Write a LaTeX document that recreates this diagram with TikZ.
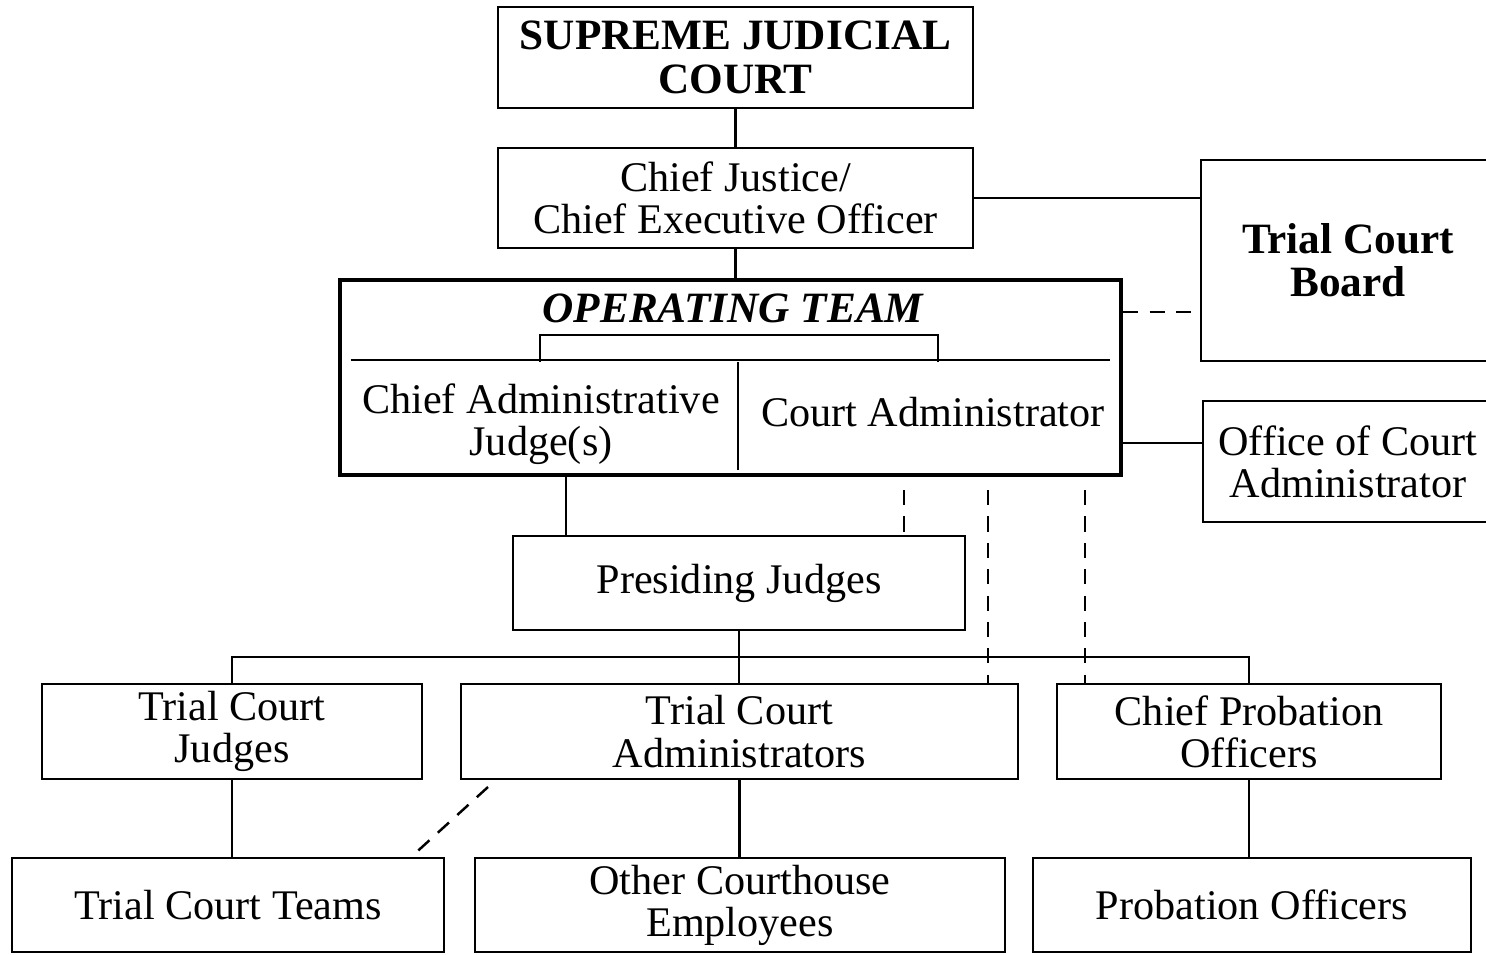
\documentclass[tikz,border=0pt]{standalone}
\usepackage{fontspec}
\setmainfont{Liberation Serif}
\usepackage{tikz}
\usetikzlibrary{calc}

\begin{document}
\begin{tikzpicture}[x=0.01cm,y=-0.01cm,line width=0.7pt,
                    font=\fontsize{12}{12}\selectfont]
  \tikzstyle{office}=[draw,rectangle,align=center,inner sep=0pt]
  \tikzstyle{rolename}=[align=center,inner sep=0pt]
  \tikzstyle{heavy}=[font=\fontsize{12.3}{12.3}\selectfont\bfseries]
  \tikzstyle{link}=[dash pattern=on 4.3pt off 3.2pt]

  \useasboundingbox (0,0) rectangle (1486,954);

  \node[office,heavy,minimum width=4.75cm,minimum height=1.01cm] (sjc) at (735.5,57.5) {SUPREME JUDICIAL\\COURT};
  \node[office,minimum width=4.75cm,minimum height=1.00cm] (cj) at (735.5,198) {Chief Justice/\\Chief Executive Officer};
  \node[office,line width=1.2pt,minimum width=7.81cm,minimum height=1.95cm] (ot) at (730.5,377.5) {};
  \node[rolename,font=\fontsize{12.3}{12.3}\selectfont\bfseries\itshape] (otl) at (733,308) {OPERATING TEAM};
  \node[rolename] (caj) at (541,424) {Chief Administrative\\Judge(s)};
  \node[rolename] (ca) at (933,412) {Court Administrator};
  \node[office,heavy,minimum width=2.94cm,minimum height=2.01cm] (tcb) at (1348,260.5) {Trial Court\\Board};
  \node[office,minimum width=2.90cm,minimum height=1.21cm] (oca) at (1348,461.5) {Office of Court\\Administrator};
  \node[office,minimum width=4.52cm,minimum height=0.94cm] (pj) at (739,583) {Presiding Judges};
  \node[office,minimum width=3.80cm,minimum height=0.95cm] (tcj) at (232,731.5) {Trial Court\\Judges};
  \node[office,minimum width=5.57cm,minimum height=0.95cm] (tca) at (739.5,731.5) {Trial Court\\Administrators};
  \node[office,minimum width=3.84cm,minimum height=0.95cm] (cpo) at (1249,731.5) {Chief Probation\\Officers};
  \node[office,minimum width=4.32cm,minimum height=0.94cm] (tct) at (228,905) {Trial Court Teams};
  \node[office,minimum width=5.30cm,minimum height=0.94cm] (oce) at (740,905) {Other Courthouse\\Employees};
  \node[office,minimum width=4.38cm,minimum height=0.94cm] (po) at (1252,905) {Probation Officers};

  % inside the operating team
  \draw ($(ot.north west)+(13,82)$) -- ($(ot.north east)+(-13,82)$);
  \draw (540,362) |- (938,335) -- (938,362);
  \draw (738,362) -- (738,470);

  \coordinate (otb) at ($(ot.north east)+(0,34)$);
  \coordinate (otc) at ($(ot.south east)+(0,-34)$);
  \coordinate (tap) at (566,0);
  \coordinate (bus) at (0,657);
  \coordinate (d1) at (904,490);
  \coordinate (d2) at (988,490);
  \coordinate (d3) at (1085,490);
  \coordinate (d4) at (488,787);
  \coordinate (d5) at ($(tct.north east)+(-34,0)$);

  \draw (sjc) -- (cj);
  \draw (cj.south) -- (cj.south |- ot.north);
  \draw (cj.east) -- (cj.east -| tcb.west);
  \draw[link] (otb) -- (otb -| tcb.west);
  \draw (otc) -- (otc -| oca.west);
  \draw (pj.north -| tap) -- (ot.south -| tap);
  \draw (pj.south) -- (pj.south |- tca.north);
  \draw (tcj.north) |- (cpo.north |- bus) -- (cpo.north);
  \draw (tcj.south) -- (tcj.south |- tct.north);
  \draw (tca.south) -- (tca.south |- oce.north);
  \draw (cpo.south) -- (cpo.south |- po.north);
  \draw[link] (d1) -- (d1 |- pj.north);
  \draw[link] (d2) -- (d2 |- tca.north);
  \draw[link] (d3) -- (d3 |- cpo.north);
  \draw[link] (d4) -- (d5);
\end{tikzpicture}
\end{document}
